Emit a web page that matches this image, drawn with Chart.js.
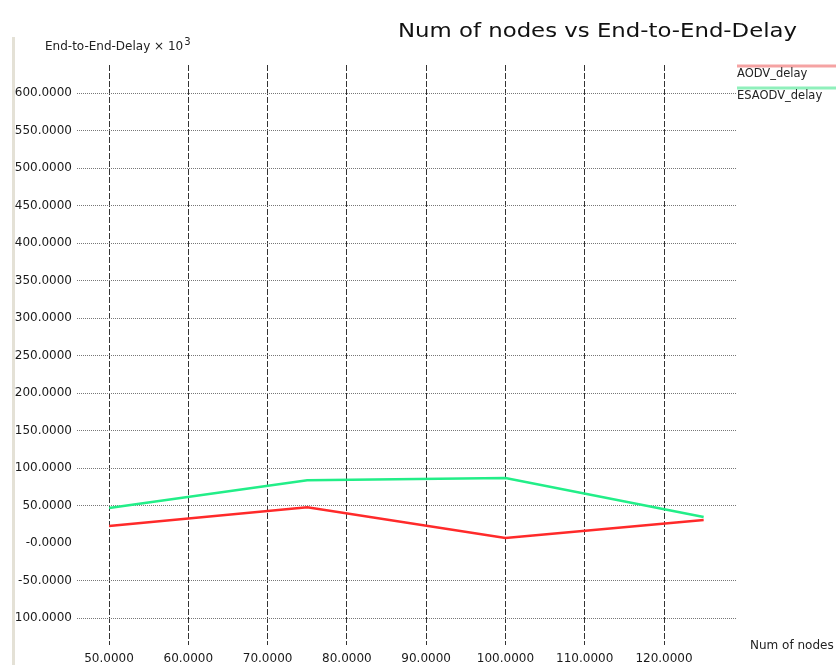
<!DOCTYPE html>
<html>
<head>
<meta charset="utf-8">
<script src="https://cdn.jsdelivr.net/npm/chart.js@4/dist/chart.umd.min.js"></script>
<style>
  html, body { margin: 0; padding: 0; background: #ffffff; }
  #wrap { width: 838px; height: 665px; position: relative; }
</style>
</head>
<body>
<div id="wrap"><canvas id="c" width="838" height="665"></canvas></div>
<script>
// ---- data ----
const nodeCounts = [50, 75, 100, 125];
const aodvDelay = [23, 48, 7, 31];
const esaodvDelay = [47, 84, 87, 35];
const seriesNames = ['AODV_delay', 'ESAODV_delay'];
const xTicks = [50, 60, 70, 80, 90, 100, 110, 120];
const xTickLabels = ['50.0000', '60.0000', '70.0000', '80.0000', '90.0000', '100.0000', '110.0000', '120.0000'];
const yTicks = [600, 550, 500, 450, 400, 350, 300, 250, 200, 150, 100, 50, 0, -50, -100];
const yTickLabels = ['600.0000', '550.0000', '500.0000', '450.0000', '400.0000', '350.0000', '300.0000', '250.0000', '200.0000', '150.0000', '100.0000', '50.0000', '-0.0000', '-50.0000', '100.0000'];
const titleText = 'Num of nodes vs End-to-End-Delay';
const yAxisTitle = 'End-to-End-Delay \u00d7 10';
const xAxisTitle = 'Num of nodes';

const RED = '#ff2a2a';
const GREEN = '#22ee88';
const FONT = '"DejaVu Sans", "Liberation Sans", Arial, sans-serif';

const decor = {
  id: 'decor',
  beforeDraw(chart) {
    const ctx = chart.ctx;
    ctx.save();
    ctx.fillStyle = '#e4e1d6';
    ctx.fillRect(12, 37, 3, 628);
    ctx.restore();
  },
  afterDraw(chart) {
    const ctx = chart.ctx;
    ctx.save();
    ctx.fillStyle = '#111';
    ctx.textBaseline = 'middle';
    ctx.textAlign = 'left';
    // title fitted to the reference's width
    ctx.font = '20px ' + FONT;
    const tw = ctx.measureText(titleText).width;
    ctx.save();
    ctx.translate(398, 32);
    ctx.scale(399 / tw, 1);
    ctx.fillText(titleText, 0, 0);
    ctx.restore();

    ctx.fillStyle = '#222';
    ctx.font = '12px ' + FONT;
    ctx.fillText(yAxisTitle, 45, 47);
    const w = ctx.measureText(yAxisTitle).width;
    ctx.font = '10px ' + FONT;
    ctx.fillText('3', 45 + w + 1, 42);
    ctx.font = '12px ' + FONT;
    ctx.fillText(xAxisTitle, 750, 646);
    // legend
    const items = [
      { name: seriesNames[0], color: '#f5a3a3', y: 66 },
      { name: seriesNames[1], color: '#8ff0bb', y: 88 }
    ];
    items.forEach(it => {
      ctx.strokeStyle = it.color;
      ctx.lineWidth = 3;
      ctx.beginPath();
      ctx.moveTo(737, it.y);
      ctx.lineTo(836, it.y);
      ctx.stroke();
      ctx.fillStyle = '#222';
      ctx.font = '11.5px ' + FONT;
      ctx.fillText(it.name, 737, it.y + 8);
    });
    ctx.restore();
  }
};

new Chart(document.getElementById('c'), {
  type: 'line',
  data: {
    datasets: [
      {
        label: seriesNames[0],
        data: nodeCounts.map((x, i) => ({ x: x, y: aodvDelay[i] })),
        borderColor: RED,
        backgroundColor: RED,
        borderWidth: 2.5,
        pointRadius: 0,
        tension: 0,
        fill: false
      },
      {
        label: seriesNames[1],
        data: nodeCounts.map((x, i) => ({ x: x, y: esaodvDelay[i] })),
        borderColor: GREEN,
        backgroundColor: GREEN,
        borderWidth: 2.5,
        pointRadius: 0,
        tension: 0,
        fill: false
      }
    ]
  },
  options: {
    responsive: false,
    animation: false,
    devicePixelRatio: 1,
    layout: { padding: { left: 0, right: 102, top: 65, bottom: 0 } },
    plugins: {
      legend: { display: false },
      title: { display: false },
      tooltip: { enabled: false }
    },
    scales: {
      x: {
        type: 'linear',
        min: 45.96,
        max: 129.08,
        afterBuildTicks(scale) { scale.ticks = xTicks.map(v => ({ value: v })); },
        afterFit(scale) { scale.height = 20; },
        border: { display: false, dash: [6, 2] },
        grid: { color: '#333', lineWidth: 1, drawTicks: false },
        ticks: {
          padding: 7,
          color: '#1a1a1a',
          font: { family: FONT, size: 12 },
          maxRotation: 0,
          autoSkip: false,
          callback: (v) => xTickLabels[xTicks.indexOf(v)]
        }
      },
      y: {
        type: 'linear',
        min: -135.6,
        max: 637.7,
        afterBuildTicks(scale) { scale.ticks = yTicks.map(v => ({ value: v })); },
        afterFit(scale) { scale.width = 77; },
        border: { display: false, dash: [1, 1] },
        grid: {
          color: (c) => (c.tick && c.tick.value === 0) ? 'rgba(0,0,0,0)' : '#777',
          lineWidth: 1,
          drawTicks: false
        },
        ticks: {
          padding: 5,
          color: '#1a1a1a',
          font: { family: FONT, size: 12 },
          autoSkip: false,
          callback: (v) => yTickLabels[yTicks.indexOf(v)]
        }
      }
    }
  },
  plugins: [decor]
});
</script>
</body>
</html>
